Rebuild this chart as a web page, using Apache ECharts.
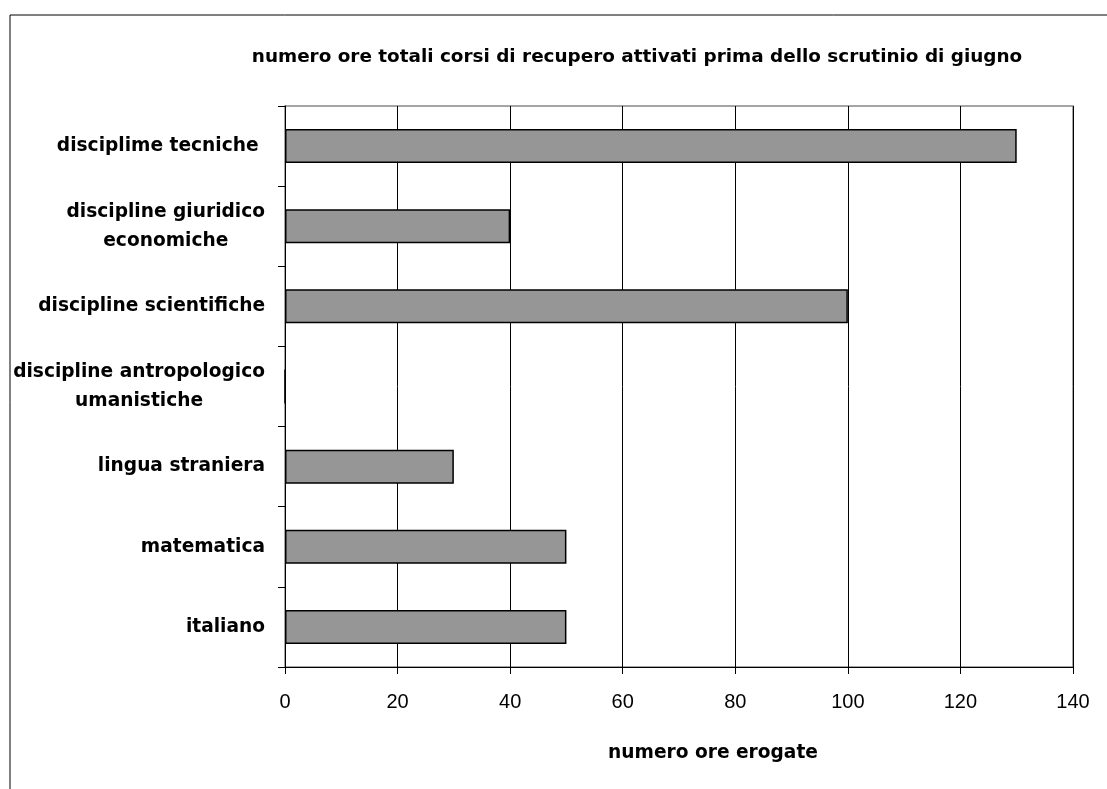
<!DOCTYPE html>
<html>
<head>
<meta charset="utf-8">
<script src="https://cdn.jsdelivr.net/npm/echarts@6/dist/echarts.min.js"></script>
<style>
html,body{margin:0;padding:0;background:#fff;}
#c{width:1107px;height:789px;}
</style>
</head>
<body>
<div id="c"></div>
<script>
const categories = ['italiano', 'matematica', 'lingua straniera', 'discipline antropologico\numanistiche', 'discipline scientifiche', 'discipline giuridico\neconomiche', 'disciplime tecniche '];
const values = [50, 50, 30, 0, 100, 40, 130];
const xTicks = [0, 20, 40, 60, 80, 100, 120, 140];
const titleText = 'numero ore totali corsi di recupero attivati prima dello scrutinio di giugno';
const xAxisName = 'numero ore erogate';

const chart = echarts.init(document.getElementById('c'), null, {renderer: 'canvas'});
const BOLD = '"DejaVu Sans", "Liberation Sans", Arial, sans-serif';
const REG = '"Liberation Sans", Arial, sans-serif';
chart.setOption({
  animation: false,
  backgroundColor: '#fff',
  graphic: [
    {type: 'rect', shape: {x: 10, y: 15, width: 1200, height: 900}, style: {fill: 'none', stroke: '#000', lineWidth: 1}, z: -10},
    {type: 'rect', shape: {x: 285, y: 106, width: 788, height: 561}, style: {fill: 'none', stroke: '#888', lineWidth: 1.5}, z: 0},
    {type: 'text', x: 637, y: 57, style: {text: titleText, font: 'bold 18.4px ' + BOLD, fill: '#000', textAlign: 'center', textVerticalAlign: 'middle'}},
    {type: 'text', x: 713, y: 753, style: {text: xAxisName, font: 'bold 18.6px ' + BOLD, fill: '#000', textAlign: 'center', textVerticalAlign: 'middle'}}
  ],
  grid: {left: 285, top: 106, width: 788, height: 561, containLabel: false},
  xAxis: {
    type: 'value', min: 0, max: 140, interval: 20,
    axisLine: {show: true, lineStyle: {color: '#000', width: 1}},
    axisTick: {show: true, length: 7, inside: false, lineStyle: {color: '#000'}},
    axisLabel: {fontFamily: REG, fontSize: 20, color: '#000', margin: 25,
      formatter: v => xTicks.includes(v) ? String(v) : ''},
    splitLine: {show: true, lineStyle: {color: '#000', width: 1}}
  },
  yAxis: {
    type: 'category', data: categories,
    axisLine: {show: true, lineStyle: {color: '#000', width: 1}},
    axisTick: {show: true, length: 7, alignWithLabel: false, lineStyle: {color: '#000'}},
    axisLabel: {
      margin: 20, color: '#000',
      formatter: v => v.split('\n').map(s => '{c|' + s + '}').join('\n'),
      rich: {c: {align: 'center', fontFamily: BOLD, fontWeight: 'bold', fontSize: 18.6, color: '#000', lineHeight: 29}}
    },
    splitLine: {show: false}
  },
  series: [{
    type: 'bar', data: values, barWidth: 34,
    itemStyle: {color: '#969696', borderColor: '#000', borderWidth: 1.5}
  }]
});
</script>
</body>
</html>
